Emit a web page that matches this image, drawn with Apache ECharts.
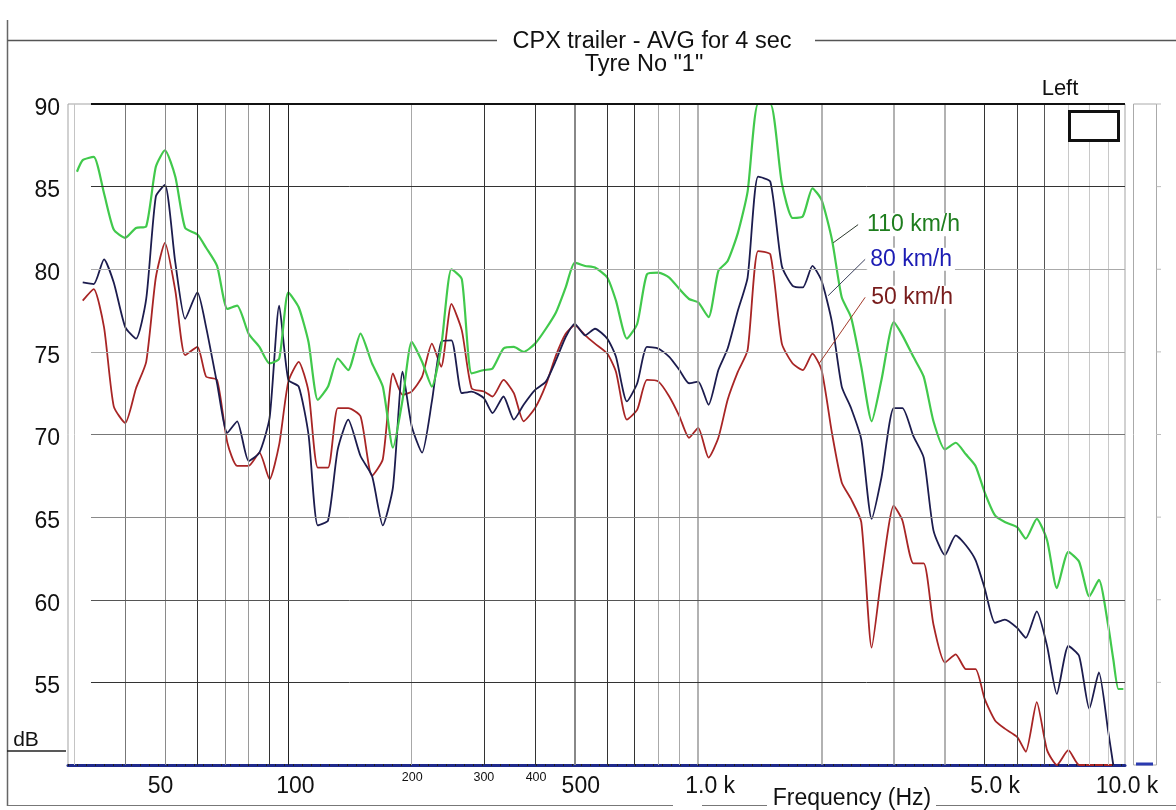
<!DOCTYPE html>
<html>
<head>
<meta charset="utf-8">
<title>CPX trailer - AVG for 4 sec</title>
<script src="https://cdn.jsdelivr.net/npm/echarts@6/dist/echarts.min.js"></script>
<style>
  html, body { margin: 0; padding: 0; background: #ffffff; }
  #chart { width: 1176px; height: 810px; }
</style>
</head>
<body>
<div id="chart"></div>
<script>
// Frequency points (Hz), 1/12-octave spacing
const freqHz = [
  30.5, 31.5, 33.5, 35.5, 37.5, 40, 42.5, 45, 47.5, 50, 53, 56, 60, 63, 67, 71, 75, 80, 85, 90, 95,
  100, 106, 112, 118, 125, 132, 140, 150, 160, 170, 180, 190, 200, 212, 224, 236, 250, 265, 280, 300,
  315, 335, 355, 375, 400, 425, 450, 475, 500, 530, 560, 600, 630, 670, 710, 750, 800, 850, 900, 950,
  1000, 1060, 1120, 1180, 1250, 1320, 1400, 1500, 1600, 1700, 1800, 1900, 2000, 2120, 2240, 2360, 2500, 2650, 2800, 3000,
  3150, 3350, 3550, 3750, 4000, 4250, 4500, 4750, 5000, 5300, 5600, 6000, 6300, 6700, 7100, 7500, 8000, 8500, 9000, 9500,
  10000, 10300, 10600, 10900
];

// Level (dB) at 110 km/h
const db110 = [
  85.9, 86.6, 86.8, 84.6, 82.4, 81.9, 82.5, 82.6, 86.2, 87.2, 85.6, 82.5, 82.1, 81.3, 80.2, 77.6, 77.8, 76.1, 75.3, 74.3, 74.6,
  78.6, 77.7, 75.6, 72.1, 72.9, 74.6, 73.9, 76.1, 74.3, 72.9, 69.2, 72.1, 75.6, 74.4, 72.9, 75.3, 80.0, 79.4, 73.7, 73.9,
  74.0, 75.2, 75.3, 75.0, 75.5, 76.4, 77.4, 78.9, 80.4, 80.2, 80.1, 79.5, 78.1, 75.8, 76.7, 79.7, 79.8, 79.5, 78.8, 78.2,
  78.0, 77.1, 79.9, 80.5, 82.2, 84.7, 90.0, 90.0, 85.2, 83.1, 83.2, 84.9, 84.2, 81.8, 78.3, 77.1, 74.1, 70.8, 73.3, 76.8,
  76.0, 74.7, 73.5, 70.8, 69.1, 69.5, 68.8, 68.1, 66.5, 65.1, 64.7, 64.4, 63.7, 64.9, 63.6, 60.7, 62.9, 62.3, 60.2, 61.2,
  58.5, 56.4, 54.6, 54.6
];

// Level (dB) at 80 km/h
const db80 = [
  null, 79.2, 79.1, 80.6, 79.2, 76.5, 75.8, 78.2, 84.4, 85.1, 80.4, 77.0, 78.6, 76.5, 73.1, 70.1, 70.8, 68.4, 68.9, 71.0, 77.8,
  73.3, 72.9, 70.0, 64.5, 64.8, 69.1, 70.9, 68.7, 67.5, 64.5, 66.8, 73.8, 70.5, 68.9, 72.0, 75.6, 75.7, 72.5, 72.6, 72.2,
  71.3, 72.3, 70.9, 71.8, 72.7, 73.2, 74.5, 75.9, 76.7, 76.0, 76.4, 75.8, 74.7, 72.0, 73.1, 75.3, 75.2, 74.7, 73.9, 73.1,
  73.2, 71.8, 73.9, 75.2, 77.5, 79.5, 85.6, 85.3, 80.2, 79.0, 78.9, 80.2, 79.3, 76.8, 72.9, 71.6, 69.7, 64.9, 67.4, 71.6,
  71.6, 69.9, 68.6, 64.2, 62.7, 63.9, 63.3, 62.4, 60.7, 58.6, 58.8, 58.3, 57.7, 59.3, 57.2, 54.3, 57.2, 56.6, 53.4, 55.6,
  52.1, 50.0, null, null
];

// Level (dB) at 50 km/h
const db50 = [
  null, 78.1, 78.8, 76.5, 71.7, 70.7, 72.8, 74.4, 79.5, 81.6, 78.7, 74.8, 75.3, 73.5, 73.3, 69.5, 68.1, 68.1, 68.9, 67.3, 69.4,
  73.2, 74.4, 72.6, 68.0, 68.0, 71.6, 71.6, 71.1, 67.5, 68.5, 73.7, 72.4, 72.6, 73.5, 75.5, 74.1, 77.9, 76.3, 72.8, 72.6,
  72.3, 73.3, 72.5, 70.8, 71.6, 73.0, 74.8, 76.1, 76.6, 76.0, 75.5, 74.9, 73.8, 70.9, 71.5, 73.3, 73.2, 72.3, 71.1, 69.8,
  70.4, 68.6, 69.8, 72.1, 73.8, 75.1, 81.1, 80.9, 75.5, 74.3, 73.9, 74.9, 73.9, 70.1, 67.1, 66.1, 64.7, 57.1, 61.4, 65.7,
  64.8, 62.2, 62.2, 58.5, 56.2, 56.7, 55.8, 55.8, 54.0, 52.7, 52.2, 51.7, 50.8, 53.8, 50.9, 50.0, 50.9, 50.0, 50.0, 50.0,
  50.0, 50.0, null, null
];

const speedNames = ['110 km/h', '80 km/h', '50 km/h'];

// Axis ticks and labels
const xTickValues = [50, 100, 200, 300, 400, 500, 1000, 5000, 10000];
const xTickLabels = ['50', '100', '200', '300', '400', '500', '1.0 k', '5.0 k', '10.0 k'];
const yTickValues = [55, 60, 65, 70, 75, 80, 85, 90];
const yTickLabels = ['55', '60', '65', '70', '75', '80', '85', '90'];
const gridFreqs = [30, 40, 50, 60, 70, 80, 90, 100, 200, 300, 400, 500, 600, 700, 800, 900, 1000,
                   2000, 3000, 4000, 5000, 6000, 7000, 8000, 9000, 10000];

// ---------- styling ----------
const FONT = "'Liberation Sans', Arial, Helvetica, sans-serif";
const X_MIN = 29, X_MAX = 11000, Y_MIN = 50, Y_MAX = 90;

const gridFreqStyle = {
  30: ['#c4c4c4', 1], 40: ['#777', 1], 50: ['#8a8a8a', 1], 60: ['#333', 1], 70: ['#8f8f8f', 1],
  80: ['#9a9a9a', 1], 90: ['#333', 1], 100: ['#222', 1], 200: ['#a8a8a8', 1], 300: ['#333', 1],
  400: ['#333', 1], 500: ['#888', 2], 600: ['#333', 1], 700: ['#333', 1], 800: ['#aaa', 1],
  900: ['#aaa', 1], 1000: ['#999', 1.5], 2000: ['#999', 1.5], 3000: ['#999', 1.5], 4000: ['#999', 1.5],
  5000: ['#333', 1], 6000: ['#444', 1], 7000: ['#555', 1], 8000: ['#c8c8c8', 1], 9000: ['#c8c8c8', 1],
  10000: ['#c8c8c8', 1]
};
const levelStyle = {
  55: ['#333', 1], 60: ['#555', 1], 65: ['#8a8a8a', 1], 70: ['#777', 1],
  75: ['#aaa', 1], 80: ['#aaa', 1], 85: ['#333', 1], 90: ['#111', 2]
};
// tick label placement: [font size, dx from tick, centre y]
const xLabelStyle = {
  50: [23, -4.5, 787], 100: [23, 7, 787], 200: [12.5, 0.5, 778], 300: [12.5, 0, 778], 400: [12.5, 1, 778],
  500: [23, 6, 787], 1000: [23, 12, 787], 5000: [23, 10.5, 787], 10000: [23, 19, 787]
};
const curveStyle = [
  { color: '#41c94c', width: 2.2, text: '#1e7d1e', leader: '#2d3a2d', from: [2135, 81.6], to: [2456, 82.7], gap: 6 },
  { color: '#1c1c4e', width: 1.8, text: '#1c1cb4', leader: '#3a3f5c', from: [2075, 78.4], to: [2555, 80.6], gap: 2 },
  { color: '#a82525', width: 1.8, text: '#781c1c', leader: '#a33b2b', from: [1973, 74.3], to: [2555, 78.3], gap: 3 }
];

const valuesBySpeed = [db110, db80, db50];

// Grid lines drawn on a helper series so each line can carry its own tone
const gridLines = [];
gridFreqs.forEach(f => {
  const s = gridFreqStyle[f];
  gridLines.push({ xAxis: f, lineStyle: { color: s[0], width: s[1], type: 'solid' } });
});
yTickValues.forEach(v => {
  const s = levelStyle[v];
  gridLines.push([
    { coord: [33, v], lineStyle: { color: s[0], width: s[1], type: 'solid' } },
    { coord: [X_MAX, v] }
  ]);
});
// dotted pattern along the frequency axis
gridLines.push([
  { coord: [X_MIN, Y_MIN], lineStyle: { color: '#222', width: 2, type: [1, 8] } },
  { coord: [X_MAX, Y_MIN] }
]);

const helperSeries = {
  type: 'line',
  data: [],
  silent: true,
  z: 1,
  markLine: {
    silent: true,
    animation: false,
    symbol: ['none', 'none'],
    label: { show: false },
    emphasis: { disabled: true },
    data: gridLines
  }
};

const curveSeries = valuesBySpeed.map((vals, k) => {
  const st = curveStyle[k];
  return {
    name: speedNames[k],
    type: 'line',
    z: 4 - k,
    data: freqHz.map((f, i) => [f, vals[i]]),
    showSymbol: false,
    symbol: 'none',
    smooth: 0.2,
    connectNulls: false,
    clip: true,
    lineStyle: { color: st.color, width: st.width },
    itemStyle: { color: st.color },
    markLine: {
      silent: true,
      animation: false,
      symbol: ['none', 'none'],
      label: { show: false },
      lineStyle: { color: st.leader, width: 1, type: 'solid' },
      data: [[{ coord: st.from }, { coord: st.to }]]
    },
    markPoint: {
      silent: true,
      animation: false,
      symbol: 'circle',
      symbolSize: 0,
      data: [{
        coord: st.to,
        label: {
          show: true,
          position: 'right',
          distance: st.gap,
          formatter: speedNames[k],
          color: st.text,
          fontSize: 23,
          fontFamily: FONT,
          backgroundColor: '#ffffff',
          padding: [0, 3]
        }
      }]
    }
  };
});

const option = {
  animation: false,
  backgroundColor: '#ffffff',
  textStyle: { fontFamily: FONT },
  grid: {
    left: 68, right: 51, top: 104, bottom: 45,
    show: true, borderColor: '#a3a3a3', borderWidth: 1, backgroundColor: 'transparent'
  },
  xAxis: {
    type: 'log',
    logBase: 10,
    min: X_MIN,
    max: X_MAX,
    axisLine: { show: true, onZero: false, lineStyle: { color: '#1f2a8c', width: 3 } },
    axisTick: { show: false },
    axisLabel: { show: false },
    splitLine: { show: false }
  },
  yAxis: {
    type: 'value',
    min: Y_MIN,
    max: Y_MAX,
    interval: 5,
    axisLine: { show: false },
    axisTick: { show: false },
    splitLine: { show: false },
    axisLabel: { show: false }
  },
  series: [helperSeries].concat(curveSeries)
};

const chart = echarts.init(document.getElementById('chart'), null, { renderer: 'canvas' });
chart.setOption(option);

// Frame, titles, axis labels and side panel
const xPx = f => chart.convertToPixel({ xAxisIndex: 0 }, f);
const yPx = v => chart.convertToPixel({ yAxisIndex: 0 }, v);
const plotL = xPx(X_MIN), plotR = xPx(X_MAX), plotT = yPx(Y_MAX), plotB = yPx(Y_MIN);

const g = [];
const line = (x1, y1, x2, y2, stroke, w) =>
  g.push({ type: 'line', silent: true, z: 10, shape: { x1, y1, x2, y2 }, style: { stroke, lineWidth: w } });
const text = (t, x, y, size, fill, align) =>
  g.push({ type: 'text', silent: true, z: 10, x, y,
           style: { text: t, fontSize: size, fontFamily: FONT, fill, align: align || 'center', verticalAlign: 'middle' } });

// outer frame
line(7.5, 20, 7.5, 806, '#666', 1.5);
line(7.5, 40.5, 497, 40.5, '#555', 1.5);
line(815, 40.5, 1176, 40.5, '#555', 1.5);
line(7.5, 805.5, 673, 805.5, '#777', 1.2);
line(702, 805.5, 767, 805.5, '#777', 1.2);
line(936, 805.5, 1176, 805.5, '#777', 1.2);

// titles
text('CPX trailer - AVG for 4 sec', 652, 42, 23.5, '#111');
text('Tyre No "1"', 644, 65, 23.5, '#111');

// channel legend
text('Left', 1060, 89, 22, '#111');
g.push({ type: 'rect', silent: true, z: 10, shape: { x: 1069.5, y: 111.5, width: 49, height: 29 },
         style: { fill: '#ffffff', stroke: '#111', lineWidth: 3 } });

// side level panel
g.push({ type: 'rect', silent: true, z: 10, shape: { x: plotR + 8.5, y: plotT, width: 23, height: plotB - plotT },
         style: { fill: 'none', stroke: '#aaa', lineWidth: 1 } });
yTickValues.forEach(v => line(plotR + 31.5, yPx(v), plotR + 36, yPx(v), '#bbb', 1));
line(plotR + 11, plotB - 1, plotR + 28, plotB - 1, '#2a3ab0', 3);

// level tick labels
yTickValues.forEach((v, i) => text(yTickLabels[i], plotL - 8, yPx(v) + 4.5, 23, '#111', 'right'));

// unit label
text('dB', 26, 740, 21, '#111');
line(7, 751, 66, 751, '#222', 1.5);

// frequency tick labels
xTickValues.forEach((f, i) => {
  const s = xLabelStyle[f];
  text(xTickLabels[i], xPx(f) + s[1], s[2], s[0], '#111');
});
text('Frequency (Hz)', 852, 799, 23, '#111');

chart.setOption({ graphic: g });
</script>
</body>
</html>
